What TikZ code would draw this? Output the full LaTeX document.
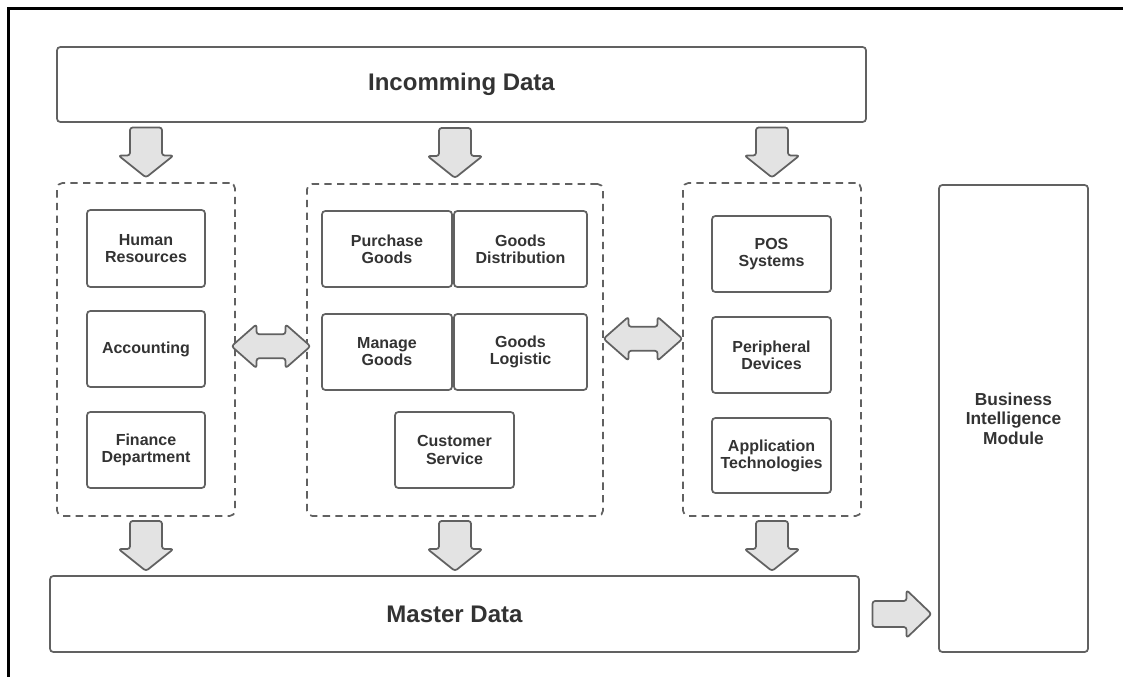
\documentclass[tikz,border=0pt]{standalone}
\usepackage{fontspec}
\setmainfont{Liberation Sans}
\usetikzlibrary{calc}

\definecolor{linegray}{HTML}{616161}
\definecolor{arrowfill}{HTML}{E3E3E3}
\definecolor{txtgray}{HTML}{333333}

\tikzset{
  blk/.style={draw=linegray, line width=1.3pt, rounded corners=2.5pt, fill=white,
    text=txtgray, align=center, inner sep=0pt,
    font=\bfseries\fontsize{12}{12.8}\selectfont},
  bigblk/.style={blk, font=\bfseries\fontsize{18}{20}\selectfont},
  grp/.style={draw=linegray, line width=1.3pt, dash pattern=on 5.5pt off 4pt,
    rounded corners=4pt, inner sep=0pt},
  sz/.style 2 args={minimum width=#1*0.75pt, minimum height=#2*0.75pt},
  fatarrow/.style={draw=linegray, fill=arrowfill, line width=1.3pt,
    rounded corners=2pt, line join=round},
  downarr/.pic={\draw[fatarrow] (-16,-25) -- (16,-25) -- (16,3) -- (27.5,3)
    -- (0,25) -- (-27.5,3) -- (-16,3) -- cycle;},
  rightarr/.pic={\draw[fatarrow] (-29.5,-13) -- (4.5,-13) -- (4.5,-24)
    -- (29.5,0) -- (4.5,24) -- (4.5,13) -- (-29.5,13) -- cycle;},
  dblarr/.pic={\draw[fatarrow] (-39.5,0) -- (-14.5,-22) -- (-14.5,-12)
    -- (14.5,-12) -- (14.5,-22) -- (39.5,0) -- (14.5,22) -- (14.5,12)
    -- (-14.5,12) -- (-14.5,22) -- cycle;}
}

\begin{document}
\begin{tikzpicture}[x=0.75pt, y=-0.75pt]
  \useasboundingbox (0,0) rectangle (1123,677);
  % frame
  \draw[line width=2pt] (8.5,677) -- (8.5,8.5) -- (1123,8.5);

  % --- main blocks ---
  \node[bigblk, sz={809}{75}] (in) at (461.5,84.5) {Incomming Data};
  \node[bigblk, sz={809}{76}] (master) at (454.5,614) {Master Data};
  \node[blk, sz={149}{467}, font=\bfseries\fontsize{13}{14.6}\selectfont]
    (bi) at (1013.5,418.5) {Business\\Intelligence\\Module};

  % --- groups ---
  \node[grp, sz={178}{333}] (grpA) at (146,349.5) {};
  \node[grp, sz={296}{332}] (grpB) at (455,350) {};
  \node[grp, sz={178}{333}] (grpC) at (772,349.5) {};

  % left group
  \node[blk, sz={118}{77}] (hr)  at (146,248.5) {Human\\Resources};
  \node[blk, sz={118}{76}] (acc) at (146,349) {Accounting};
  \node[blk, sz={118}{76}] (fin) at (146,450) {Finance\\Department};

  % middle group
  \node[blk, sz={130}{76}] (pur)  at (387,249) {Purchase\\Goods};
  \node[blk, sz={133}{76}] (dist) at (520.5,249) {Goods\\Distribution};
  \node[blk, sz={130}{76}] (man)  at (387,352) {Manage\\Goods};
  \node[blk, sz={133}{76}] (log)  at (520.5,352) {Goods\\Logistic};
  \node[blk, sz={119}{76}] (cs)   at (454.5,450) {Customer\\Service};

  % right group
  \node[blk, sz={119}{76}] (pos) at (771.5,254) {POS\\Systems};
  \node[blk, sz={119}{76}] (per) at (771.5,355) {Peripheral\\Devices};
  \node[blk, sz={119}{75}] (app) at (771.5,455.5) {Application\\Technologies};

  % --- block arrows ---
  \foreach \g in {grpA,grpB,grpC} {
    \pic at ($(in.south -| \g.north)!0.5!(\g.north)$) {downarr};
    \pic at ($(\g.south)!0.5!(master.north -| \g.south)$) {downarr};
  }
  \pic at ($(grpA.east)!0.5!(grpB.west)+(0,-3.5)$) {dblarr};
  \pic at ($(grpB.east)!0.5!(grpC.west)+(0,-11)$) {dblarr};
  \pic at ($(master.east)!0.5!(bi.west |- master.east)+(3,0)$) {rightarr};
\end{tikzpicture}
\end{document}
